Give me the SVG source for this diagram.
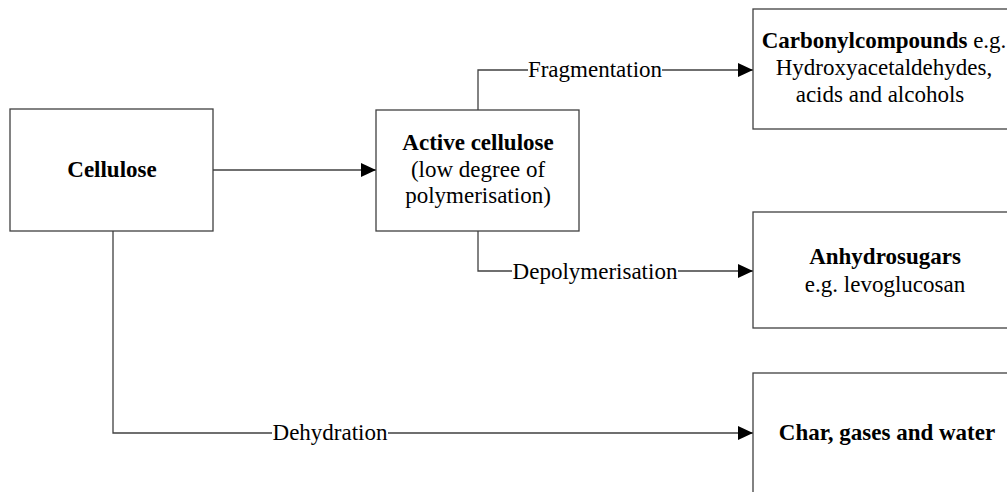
<svg xmlns="http://www.w3.org/2000/svg" width="1007" height="492" viewBox="0 0 1007 492">
<defs>
<marker id="arr" markerUnits="userSpaceOnUse" markerWidth="16" markerHeight="14" refX="15" refY="7" orient="auto">
<path d="M0,0 L15,7 L0,14 Z" fill="#000"/>
</marker>
<style>
.box{fill:#fff;stroke:#404040;stroke-width:1.3}
.ln{fill:none;stroke:#404040;stroke-width:1.3}
text{font-size:23px;fill:#000;text-anchor:middle}
.b{font-weight:bold}
.bg{fill:#fff}
</style>
</defs>
<rect width="1007" height="492" fill="#fff"/>
<g font-family="'Liberation Serif', 'DejaVu Serif', serif">
<g id="connectors">
<path class="ln" d="M213,170 H376" marker-end="url(#arr)"/>
<path class="ln" d="M478,110 V70 H753" marker-end="url(#arr)"/>
<path class="ln" d="M478,231 V271 H753" marker-end="url(#arr)"/>
<path class="ln" d="M113,231 V433 H753" marker-end="url(#arr)"/>
<rect class="bg" x="528" y="60" width="134" height="22"/>
<text x="595" y="77">Fragmentation</text>
<rect class="bg" x="512" y="261" width="166" height="22"/>
<text x="595" y="279">Depolymerisation</text>
<rect class="bg" x="272" y="423" width="116" height="22"/>
<text x="330" y="440">Dehydration</text>
</g>
<g id="cellulose">
<rect class="box" x="10" y="109" width="203" height="122"/>
<text class="b" x="112" y="177">Cellulose</text>
</g>
<g id="active">
<rect class="box" x="376" y="110" width="203" height="121"/>
<text class="b" x="478" y="150">Active cellulose</text>
<text x="478" y="177">(low degree of</text>
<text x="478" y="203">polymerisation)</text>
</g>
<g id="carbonyl">
<rect class="box" x="753" y="9" width="270" height="120"/>
<text x="884" y="48"><tspan class="b">Carbonylcompounds</tspan> e.g.</text>
<text x="884" y="75">Hydroxyacetaldehydes,</text>
<text x="880" y="102">acids and alcohols</text>
</g>
<g id="anhydro">
<rect class="box" x="753" y="212" width="270" height="116"/>
<text class="b" x="885" y="264">Anhydrosugars</text>
<text x="885" y="292">e.g. levoglucosan</text>
</g>
<g id="char">
<rect class="box" x="753" y="373" width="270" height="140"/>
<text class="b" x="887" y="440">Char, gases and water</text>
</g>
</g>
</svg>
